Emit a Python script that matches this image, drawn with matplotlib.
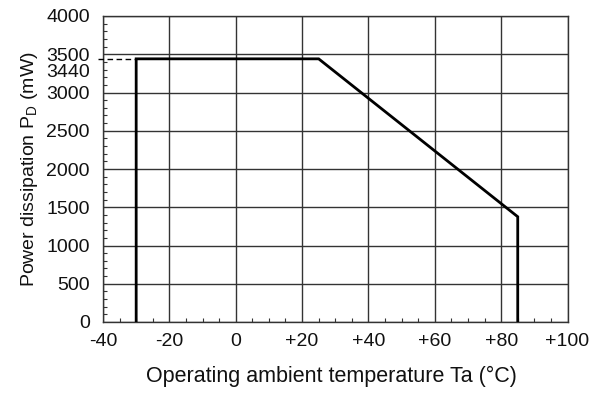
import matplotlib
matplotlib.use("Agg")
import matplotlib.pyplot as plt
from matplotlib.ticker import MultipleLocator

plt.rcParams['font.family'] = ['Liberation Sans', 'DejaVu Sans']

# Derating curve: operating temperature (°C) vs. allowable power dissipation (mW)
temp_c = [-30, -30, 25, 85, 85]
power_mw = [0, 3440, 3440, 1376, 0]

x_ticks = [-40, -20, 0, 20, 40, 60, 80, 100]
x_tick_labels = ["-40", "-20", "0", "+20", "+40", "+60", "+80", "+100"]
y_ticks = [0, 500, 1000, 1500, 2000, 2500, 3000, 3500, 4000]
rated_power = 3440

FS = 14
INK = '#111111'

fig = plt.figure(figsize=(5.96, 3.98), dpi=100)
ax = fig.add_axes([103 / 596, 1 - 322 / 398, (567.5 - 103) / 596, (322 - 16) / 398])

ax.set_xlim(-40, 100)
ax.set_ylim(0, 4000)
ax.set_xticks(x_ticks)
ax.set_xticklabels(x_tick_labels)
ax.set_yticks(y_ticks)
ax.xaxis.set_minor_locator(MultipleLocator(5))
ax.yaxis.set_minor_locator(MultipleLocator(100))
ax.tick_params(axis='x', which='major', length=0, pad=8, labelsize=FS, colors=INK)
ax.tick_params(axis='y', which='major', length=0, pad=9.5, labelsize=FS, colors=INK)
ax.tick_params(which='minor', direction='in', length=3, width=0.8, color='#333333')

ax.grid(True, which='major', color='#333333', linewidth=1.0)
for s in ax.spines.values():
    s.set_color('#333333')
    s.set_linewidth(1.0)

# rated-power reference line from the axis to the curve
ax.plot([-41.6, temp_c[1]], [rated_power, rated_power], color='black',
        linestyle=(0, (4, 2.5)), linewidth=1.0, clip_on=False, zorder=3)
ax.text(-40 - 13 / 3.318, rated_power - 175, str(rated_power), ha='right', va='center',
        fontsize=FS, color=INK)

ax.plot(temp_c, power_mw, color='black', linewidth=2.0, solid_joinstyle='miter', zorder=4)

ax.set_xlabel("Operating ambient temperature Ta (°C)", fontsize=15.5, color=INK)
ax.set_ylabel("Power dissipation P$_\\mathregular{D}$ (mW)", fontsize=FS, color=INK)
ax.xaxis.set_label_coords(0.492, -0.144)
ax.yaxis.set_label_coords(-0.136, 0.5)

fig.savefig("out.png", dpi=100)
